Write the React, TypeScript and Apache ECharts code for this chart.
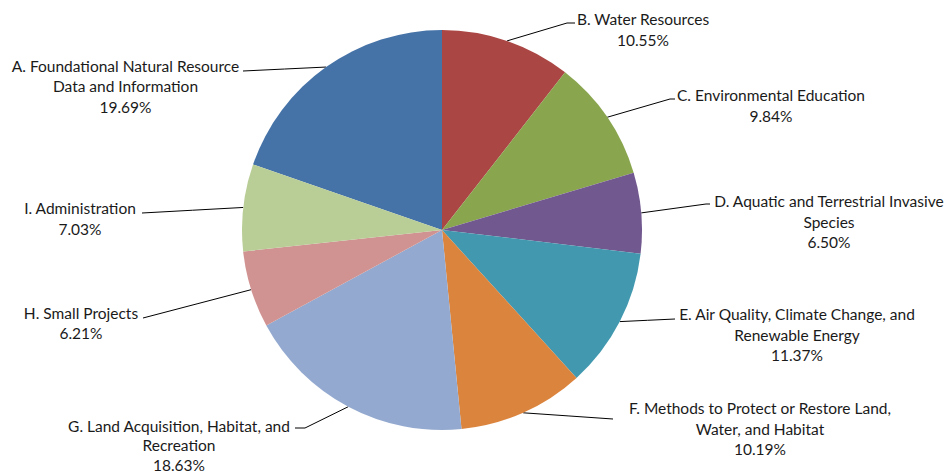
import React, { useEffect, useRef } from "react";
import * as echarts from "echarts";

const categories = [
  "A. Foundational Natural Resource\nData and Information",
  "B. Water Resources",
  "C. Environmental Education",
  "D. Aquatic and Terrestrial Invasive\nSpecies",
  "E. Air Quality, Climate Change, and\nRenewable Energy",
  "F. Methods to Protect or Restore Land,\nWater, and Habitat",
  "G. Land Acquisition, Habitat, and\nRecreation",
  "H. Small Projects",
  "I. Administration",
];
const shares = [19.69, 10.55, 9.84, 6.5, 11.37, 10.19, 18.63, 6.21, 7.03];
const colors = [
  "#4572A7",
  "#AA4643",
  "#89A54E",
  "#71588F",
  "#4198AF",
  "#DB843D",
  "#93A9CF",
  "#D19392",
  "#B9CD96",
];

// label placement: [centre x, centre y of first line, line height]
const labelPos: [number, number, number][] = [
  [125.5, 65.5, 20.5],
  [643, 19, 20.5],
  [771, 95, 20.5],
  [829, 201, 20.5],
  [797, 314, 20.5],
  [760, 408, 20.5],
  [179, 425.5, 19.5],
  [81, 312.5, 20.5],
  [80, 208, 20.5],
];
// leader line points after the slice edge point
const leaderEnds: [number, number][][] = [
  [[243, 71]],
  [[567, 23], [575, 23]],
  [[670, 99], [675, 99]],
  [[706, 204], [710, 204]],
  [[675, 319]],
  [[613, 419]],
  [[305, 428], [295, 428]],
  [[143, 318]],
  [[142, 213]],
];

const CX = 442;
const CY = 230;
const R = 200;

export default function App() {
  const ref = useRef<HTMLDivElement>(null);
  useEffect(() => {
    if (!ref.current) return;
    const chart = echarts.init(ref.current, undefined, { renderer: "svg" });
    const total = shares.reduce((a, b) => a + b, 0);
    const startAngle = 90 + (shares[0] / total) * 360;
    const mids: number[] = [];
    let acc = startAngle;
    shares.forEach((v) => {
      const span = (v / total) * 360;
      mids.push(acc - span / 2);
      acc -= span;
    });
    chart.setOption({
      animation: false,
      backgroundColor: "#ffffff",
      series: [
        {
          type: "pie",
          center: [CX, CY],
          radius: R,
          startAngle,
          clockwise: true,
          avoidLabelOverlap: false,
          minAngle: 0,
          itemStyle: { borderWidth: 0 },
          emphasis: { disabled: true },
          data: categories.map((name, i) => ({
            name,
            value: shares[i],
            itemStyle: { color: colors[i] },
            label: { lineHeight: labelPos[i][2] },
          })),
          label: {
            show: true,
            position: "outside",
            formatter: (p: any) => `${p.name}\n${shares[p.dataIndex].toFixed(2)}%`,
            color: "#1a1a1a",
            fontFamily: "Lato",
            fontSize: 15.5,
            lineHeight: 20.5,
            align: "center",
          },
          labelLine: {
            show: true,
            lineStyle: { color: "#000000", width: 1 },
          },
          labelLayout: (params: any) => {
            const i = params.dataIndex;
            const a = (mids[i] * Math.PI) / 180;
            const start: [number, number] = [CX + R * Math.cos(a), CY - R * Math.sin(a)];
            const pts = [start, ...leaderEnds[i]];
            if (pts.length === 2) pts.splice(1, 0, [(start[0] + pts[1][0]) / 2, (start[1] + pts[1][1]) / 2]);
            return {
              x: labelPos[i][0],
              y: labelPos[i][1] - labelPos[i][2] / 2,
              align: "center",
              verticalAlign: "top",
              labelLinePoints: pts,
            };
          },
        },
      ],
    });
    return () => chart.dispose();
  }, []);
  return (
    <div
      ref={ref}
      style={{ position: "absolute", left: 0, top: 0, width: 948, height: 475 }}
    />
  );
}
